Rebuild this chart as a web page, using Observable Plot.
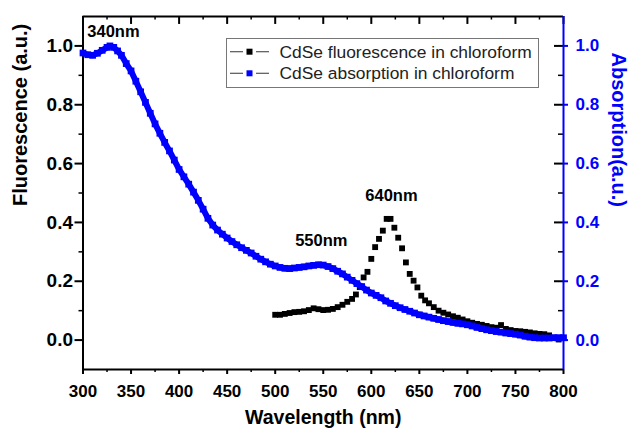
<!DOCTYPE html>
<html><head><meta charset="utf-8">
<script src="https://cdn.jsdelivr.net/npm/d3@7"></script>
<script src="https://cdn.jsdelivr.net/npm/@observablehq/plot@0.6"></script>
<style>body{margin:0;background:#fff} #chart{position:relative;width:629px;height:428px}</style>
</head><body><div id="chart"></div>
<script>
const FONT = "'Liberation Sans', Arial, Helvetica, sans-serif";
const BLUE = "#0000ff";

// Absorption spectrum (right axis)
const absWavelength = [300,305,310,315,320,325,328,332,336,340,345,350,355,360,365,370,375,380,385,390,395,400,405,410,415,420,425,430,435,440,445,450,455,460,465,470,475,480,485,490,495,500,505,510,515,520,525,530,535,540,545,550,555,560,565,570,575,580,585,590,595,600,605,610,615,620,625,630,635,640,645,650,655,660,665,670,675,680,685,690,695,700,705,710,715,720,725,730,735,740,745,750,755,760,765,770,775,780,785,790,795,800];
const absorption = [0.976,0.970,0.968,0.975,0.985,0.995,1.000,0.995,0.983,0.968,0.940,0.915,0.880,0.844,0.808,0.771,0.735,0.703,0.672,0.643,0.612,0.580,0.555,0.530,0.503,0.475,0.445,0.414,0.391,0.374,0.360,0.347,0.335,0.324,0.314,0.305,0.296,0.285,0.275,0.266,0.258,0.252,0.247,0.244,0.243,0.245,0.247,0.249,0.252,0.254,0.256,0.255,0.250,0.243,0.234,0.225,0.214,0.203,0.192,0.182,0.170,0.160,0.152,0.144,0.133,0.125,0.117,0.110,0.104,0.098,0.092,0.086,0.082,0.078,0.074,0.070,0.066,0.063,0.060,0.057,0.055,0.052,0.048,0.043,0.039,0.035,0.032,0.029,0.027,0.024,0.022,0.020,0.017,0.013,0.010,0.008,0.007,0.007,0.007,0.008,0.008,0.008];

// Fluorescence spectrum (left axis)
const flWavelength = [500,505,510,515,520,525,530,535,540,545,550,555,560,565,570,575,580,584,588,592,596,600,604,608,612,616,620,624,628,632,636,640,644,648,652,656,660,665,670,675,680,685,690,695,700,705,710,715,720,725,730,735,740,745,750,755,760,765,770,775,780,785,790,795];
const fluorescence = [0.086,0.086,0.089,0.092,0.095,0.096,0.098,0.102,0.108,0.105,0.102,0.103,0.106,0.112,0.120,0.130,0.140,0.155,0.180,0.213,0.232,0.276,0.316,0.344,0.372,0.412,0.412,0.382,0.348,0.312,0.264,0.225,0.202,0.179,0.151,0.135,0.125,0.112,0.100,0.093,0.087,0.081,0.076,0.070,0.064,0.059,0.055,0.052,0.048,0.044,0.042,0.051,0.038,0.034,0.031,0.030,0.028,0.026,0.023,0.021,0.020,0.016,0.008,0.002];

const seriesNames = ["CdSe fluorescence in chloroform", "CdSe absorption in chloroform"];
const seriesColors = ["#000000", BLUE];

const xTicks = [300,350,400,450,500,550,600,650,700,750,800];
const xMinor = [325,375,425,475,525,575,625,675,725,775];
const yTicks = [0,0.2,0.4,0.6,0.8,1.0];
const yMinor = [0.1,0.3,0.5,0.7,0.9];

const annoLabels = ["340nm","550nm","640nm"];
const annoX = [304.5, 548, 621];
const annoY = [1.047, 0.338, 0.491];

const absData = absWavelength.map((w,i) => ({wl: w, v: absorption[i]}));
const flData = flWavelength.map((w,i) => ({wl: w, v: fluorescence[i]}));
const annoData = annoLabels.map((t,i) => ({t, x: annoX[i], y: annoY[i]}));
const fmt = d3.format(".1f");

const plot = Plot.plot({
  width: 629, height: 428,
  marginLeft: 82.5, marginRight: 66, marginTop: 16, marginBottom: 59,
  style: {fontFamily: FONT, background: "#fff", overflow: "visible"},
  x: {domain: [300, 800], label: null},
  y: {domain: [-0.1, 1.1], label: null},
  marks: [
    // bottom axis
    Plot.axisX(xMinor, {anchor: "bottom", tickSize: 3, strokeWidth: 1.5, tickFormat: () => "", label: null}),
    Plot.axisX(xTicks, {anchor: "bottom", tickSize: 5, tickPadding: 10, strokeWidth: 2, fontSize: 17, fontWeight: "bold", fill: "#000", tickFormat: d => d, label: null}),
    // top inward ticks
    Plot.ruleX(xTicks, {x: d => d, y1: 1.1, y2: 1.1 - 0.027, stroke: "#000", strokeWidth: 2}),
    Plot.ruleX(xMinor, {x: d => d, y1: 1.1, y2: 1.1 - 0.012, stroke: "#000", strokeWidth: 1.5}),
    // left axis
    Plot.axisY(yMinor, {anchor: "left", tickSize: 4, strokeWidth: 1.5, tickFormat: () => "", label: null}),
    Plot.axisY(yTicks, {anchor: "left", tickSize: 8, tickPadding: 2, strokeWidth: 2, fontSize: 19, fontWeight: "bold", fill: "#000", tickFormat: fmt, label: null}),
    // right axis: black inward ticks, blue outward ticks and labels
    Plot.ruleY(yTicks, {y: d => d, x1: 800, x2: 800 - 9/0.962, stroke: "#000", strokeWidth: 2}),
    Plot.ruleY(yMinor, {y: d => d, x1: 800, x2: 800 - 5/0.962, stroke: "#000", strokeWidth: 1.5}),
    Plot.axisY(yTicks, {anchor: "right", tickSize: 4, tickPadding: 8, strokeWidth: 2, color: BLUE, fontSize: 17, fontWeight: "bold", tickFormat: fmt, label: null}),
    // frame
    Plot.ruleY([-0.1, 1.1], {stroke: "#000", strokeWidth: 2}),
    Plot.ruleX([300], {stroke: "#000", strokeWidth: 2}),
    Plot.ruleX([800], {stroke: BLUE, strokeWidth: 2}),
    // data
    Plot.dot(flData, {x: "wl", y: "v", symbol: "square", r: 3.3, fill: "#000", stroke: null}),
    Plot.line(absData, {x: "wl", y: "v", stroke: BLUE, strokeWidth: 6, curve: "linear"}),
    Plot.dot(absData, {x: "wl", y: "v", symbol: "square", r: 3.8, fill: BLUE, stroke: null}),
    // annotations
    Plot.text(annoData.slice(0, 1), {x: "x", y: "y", text: "t", textAnchor: "start", fontSize: 16.5, fontWeight: "bold", fill: "#000"}),
    Plot.text(annoData.slice(1), {x: "x", y: "y", text: "t", textAnchor: "middle", fontSize: 16.5, fontWeight: "bold", fill: "#000"}),
    // axis titles
    Plot.text(["Wavelength (nm)"], {frameAnchor: "bottom", dy: 48.5, text: d => d, fontSize: 19.5, fontWeight: "bold", fill: "#000", lineAnchor: "middle"}),
    Plot.text(["Fluorescence (a.u.)"], {frameAnchor: "left", dx: -62, dy: 13, rotate: -90, text: d => d, fontSize: 20, fontWeight: "bold", fill: "#000", lineAnchor: "middle"}),
    Plot.text(["Absorption(a.u.)"], {frameAnchor: "right", dx: 55, dy: 14, rotate: 90, text: d => d, fontSize: 20, fontWeight: "bold", fill: BLUE, lineAnchor: "middle"})
  ]
});

document.getElementById("chart").appendChild(plot);

// Legend box
const svg = d3.select(plot);
const lg = svg.append("g").attr("font-family", FONT).attr("text-anchor", "start");
lg.append("rect").attr("x", 226.5).attr("y", 38.5).attr("width", 312).attr("height", 49)
  .attr("fill", "#fff").attr("stroke", "#777").attr("stroke-width", 1);
const rowsY = [51.7, 73.3];
seriesNames.forEach((name, i) => {
  const y = rowsY[i];
  lg.append("line").attr("x1", 230).attr("x2", 243).attr("y1", y).attr("y2", y).attr("stroke", "#555").attr("stroke-width", 1.2);
  lg.append("line").attr("x1", 256).attr("x2", 269).attr("y1", y).attr("y2", y).attr("stroke", "#555").attr("stroke-width", 1.2);
  lg.append("rect").attr("x", 246.5).attr("y", y - 3).attr("width", 6).attr("height", 6).attr("fill", seriesColors[i]);
  lg.append("text").attr("x", 279.5).attr("y", y).attr("dy", "0.35em").attr("text-anchor", "start")
    .attr("font-size", 17.4).attr("fill", "#222").text(name);
});
</script>
</body></html>
